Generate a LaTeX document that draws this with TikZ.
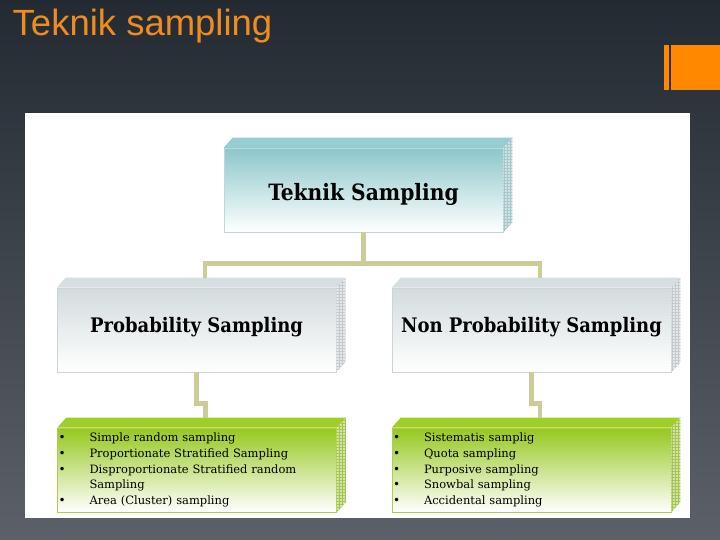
\documentclass[tikz,border=0pt]{standalone}
\usepackage{fontspec}
\usepackage{xcolor}
\usepackage{tikz}
\setmainfont{DejaVu Serif}
\newfontfamily\titlefont{Liberation Sans}
\newfontfamily\headfont{DejaVu Serif Condensed}

\definecolor{bgtop}{RGB}{35,42,49}
\definecolor{bgbot}{RGB}{92,97,105}
\definecolor{titleorange}{RGB}{240,140,30}
\definecolor{barorange}{RGB}{255,136,0}
\definecolor{linkcol}{RGB}{204,204,153}
\definecolor{tealtop}{RGB}{140,199,203}
\definecolor{tealface}{RGB}{150,205,208}
\definecolor{tealside}{RGB}{205,228,230}
\definecolor{tealgrid}{RGB}{170,198,200}
\definecolor{tealedge}{RGB}{190,215,217}
\definecolor{graytop}{RGB}{210,219,222}
\definecolor{grayface}{RGB}{214,222,225}
\definecolor{grayside}{RGB}{228,232,234}
\definecolor{graygrid}{RGB}{195,201,204}
\definecolor{grayedge}{RGB}{205,212,214}
\definecolor{greentop}{RGB}{150,200,30}
\definecolor{greenface}{RGB}{160,205,40}
\definecolor{greenside}{RGB}{210,230,160}
\definecolor{greengrid}{RGB}{165,195,90}
\definecolor{greenedge}{RGB}{175,205,80}

% top face and gridded side face of a block
\newcommand\blockfaces[4]{%
  \fill[#2] (#1.north west) -- ++(9, -10) -- ([shift={(9, -10)}]#1.north east) -- (#1.north east) -- cycle;
  \fill[#3] (#1.north east) -- ([shift={(9, -10)}]#1.north east) -- ([shift={(9, -10)}]#1.south east) -- (#1.south east) -- cycle;
  \begin{scope}
    \clip (#1.north east) -- ([shift={(9, -10)}]#1.north east) -- ([shift={(9, -10)}]#1.south east) -- (#1.south east) -- cycle;
    \draw[#4, line width=.4pt, step=3pt] (#1.south east) grid ([shift={(10, -12)}]#1.north east);
  \end{scope}}

\newcommand\itm[1]{\makebox[29pt][l]{\hspace{-2pt}\fontsize{12}{9}\selectfont\textbullet}#1\\}

\tikzset{
  block/.style={minimum width=279pt, minimum height=84pt, inner sep=0pt, line width=.6pt},
  headbox/.style={block, text height=14pt, text depth=9.4pt, font=\headfont\bfseries\fontsize{20}{24}\selectfont},
  listbox/.style={block, text width=273pt, inner xsep=3pt, align=left, font=\fontsize{11.5}{15.7}\selectfont},
  link/.style={linkcol, line width=4.5pt}
}

\begin{document}
\begin{tikzpicture}[x=1pt, y=-1pt]
	  \useasboundingbox(0, 0) rectangle (720, 540);
	  \shade[top color=bgtop, middle color=bgtop, bottom color=bgbot](0, 0) rectangle (720, 540);
	  \fill[white](25, 113) rectangle (690, 518);
	  \draw(12.5, 36) node[anchor=base west, inner sep=0pt, text=titleorange, font=\titlefont\fontsize{36.5}{40}\selectfont](title) {Teknik sampling};
	  \fill[barorange](664, 45) rectangle (669, 90);
	  \fill[barorange](671, 45) rectangle (720, 90);
	  % blocks
	  \draw(363.5, 190) node[headbox, text height=22pt, text depth=1.6pt, font=\headfont\bfseries\fontsize{22.5}{26}\selectfont, draw=tealedge, top color=tealtop, middle color=tealtop!45!white, bottom color=white](tk) {Teknik Sampling};
	  \draw(196.5, 330) node[headbox, draw=grayedge, top color=graytop, bottom color=white](prob) {Probability Sampling};
	  \draw(531.5, 330) node[headbox, draw=grayedge, top color=graytop, bottom color=white](nonprob) {Non Probability Sampling};
	  \draw(197, 470) node[listbox, draw=greenedge, top color=greentop, middle color=greentop!50!white, bottom color=white](plist) {%
	    \itm{Simple random sampling}\itm{Proportionate Stratified Sampling}\itm{Disproportionate Stratified random}\makebox[29pt]{}Sampling\\\itm{Area (Cluster) sampling}};
	  \draw(531.5, 470) node[listbox, draw=greenedge, top color=greentop, middle color=greentop!50!white, bottom color=white](nlist) {%
	    \itm{Sistematis samplig}\itm{Quota sampling}\itm{Purposive sampling}\itm{Snowbal sampling}\itm{Accidental sampling}};
	  \blockfaces{tk}{tealface}{tealside}{tealgrid}
	  \blockfaces{prob}{grayface}{grayside}{graygrid}
	  \blockfaces{nonprob}{grayface}{grayside}{graygrid}
	  \blockfaces{plist}{greenface}{greenside}{greengrid}
	  \blockfaces{nlist}{greenface}{greenside}{greengrid}
	  % connectors
	  \draw[link](tk.south) -- ++(0, 31) coordinate(fork);
	  \draw[link](fork) -| ([shift={(8.5, -10)}]prob.north);
	  \draw[link](fork) -| ([shift={(8.5, -10)}]nonprob.north);
	  \draw[link](prob.south) -- ++(0, 31) -| ([shift={(8.5, -10)}]plist.north);
	  \draw[link](nonprob.south) -- ++(0, 31) -| ([shift={(8.5, -10)}]nlist.north);
	\end{tikzpicture}
\end{document}
